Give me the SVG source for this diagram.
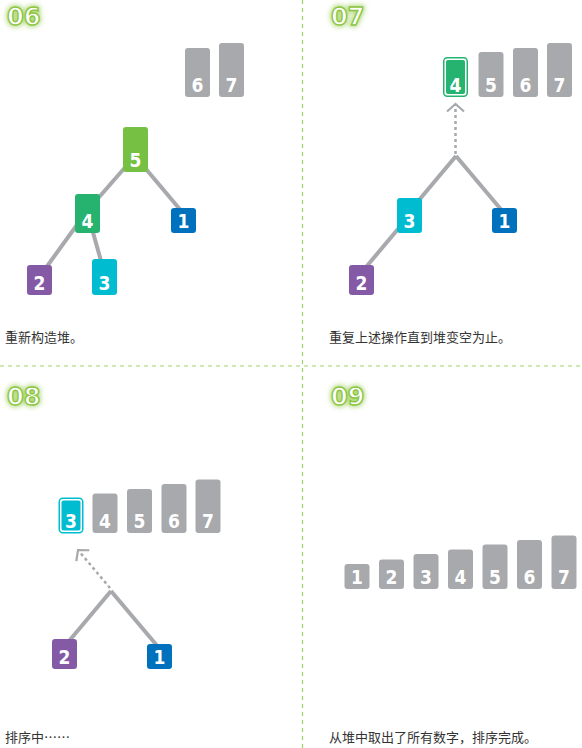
<svg xmlns="http://www.w3.org/2000/svg" width="582" height="748" viewBox="0 0 582 748">
<defs>
<style>
.bar{fill:#a7a9ac}
.c5{fill:#76c043}.c4{fill:#26b36f}.c1{fill:#0071bc}.c2{fill:#8459a5}.c3{fill:#00bcd0}
.num{font-family:"DejaVu Sans Condensed","DejaVu Sans","Liberation Sans",sans-serif;font-stretch:condensed;font-weight:bold;font-size:19px;fill:#fff;text-anchor:middle}
.edge{stroke:#a7a9ac;stroke-width:4;fill:none}
.arrow{stroke:#a7a9ac;stroke-width:2.5;stroke-dasharray:3 3;fill:none}
.div{stroke:#9ed36a;stroke-width:1.2;stroke-dasharray:4 4;fill:none}
.cap{font-family:"Noto Sans CJK SC","Noto Sans CJK JP",sans-serif;font-size:13px;fill:#333}
.step{font-family:"DejaVu Sans","Open Sans",sans-serif;font-weight:bold;font-size:24px;fill:#fff;stroke:#8cc63f;stroke-width:1.4}
.glow{font-family:"DejaVu Sans","Open Sans",sans-serif;font-weight:bold;font-size:24px;fill:#8cc63f;stroke:#8cc63f;stroke-width:4;filter:url(#blur);opacity:0.65}
</style>
<filter id="blur" x="-50%" y="-50%" width="200%" height="200%"><feGaussianBlur stdDeviation="2.5"/></filter>
<marker id="chev" markerUnits="userSpaceOnUse" markerWidth="30" markerHeight="30" refX="0" refY="0" viewBox="-15 -15 30 30" orient="auto" overflow="visible">
<path d="M-7.5,-8.5 L0,0 L-7.5,8.5" fill="none" stroke="#a7a9ac" stroke-width="2.2"/>
</marker>
</defs>
<rect width="582" height="748" fill="#fff"/>

<g id="dividers">
<line class="div" x1="0" y1="366" x2="582" y2="366"/>
<line class="div" x1="302.5" y1="0" x2="302.5" y2="748"/>
</g>

<g id="step-labels">
<text class="glow" x="7" y="25">06</text><text class="step" x="7" y="25">06</text>
<text class="glow" x="331" y="25">07</text><text class="step" x="331" y="25">07</text>
<text class="glow" x="7" y="405">08</text><text class="step" x="7" y="405">08</text>
<text class="glow" x="331" y="405">09</text><text class="step" x="331" y="405">09</text>
</g>

<g id="connectors">
<line class="edge" x1="135" y1="156" x2="87" y2="211"/>
<line class="edge" x1="135" y1="156" x2="183" y2="213"/>
<line class="edge" x1="87" y1="211" x2="40" y2="276"/>
<line class="edge" x1="87" y1="211" x2="103" y2="268"/>
<line class="edge" x1="456" y1="156" x2="504" y2="213"/>
<line class="edge" x1="456" y1="156" x2="409" y2="212"/>
<line class="edge" x1="409" y1="216" x2="361" y2="273"/>
<line class="arrow" x1="455.5" y1="154" x2="455.5" y2="104" marker-end="url(#chev)"/>
<line class="edge" x1="111" y1="591" x2="64" y2="647"/>
<line class="edge" x1="111" y1="591" x2="159" y2="648"/>
<line class="arrow" x1="110" y1="588" x2="78" y2="550" marker-end="url(#chev)"/>
</g>

<!-- panel 06 -->
<g id="p06-bar6"><rect class="bar" x="185" y="48" width="25" height="49" rx="3"/><text class="num" x="197.5" y="91.5">6</text></g>
<g id="p06-bar7"><rect class="bar" x="219" y="43" width="25" height="54" rx="3"/><text class="num" x="231.5" y="91.5">7</text></g>
<g id="p06-n5"><rect class="c5" x="123" y="127" width="25" height="45" rx="3"/><text class="num" x="135.5" y="166.5">5</text></g>
<g id="p06-n4"><rect class="c4" x="75" y="194" width="25" height="39" rx="3"/><text class="num" x="87.5" y="227.5">4</text></g>
<g id="p06-n1"><rect class="c1" x="171" y="208" width="25" height="25" rx="3"/><text class="num" x="183.5" y="227.5">1</text></g>
<g id="p06-n2"><rect class="c2" x="27" y="265" width="25" height="30" rx="3"/><text class="num" x="39.5" y="289.5">2</text></g>
<g id="p06-n3"><rect class="c3" x="92" y="259" width="25" height="36" rx="3"/><text class="num" x="104.5" y="289.5">3</text></g>
<text class="cap" x="5" y="342">重新构造堆。</text>

<!-- panel 07 -->
<g id="p07-n4"><rect x="443.75" y="57.75" width="23.5" height="38.5" rx="3.5" fill="#fff" stroke="#26b36f" stroke-width="1.5"/><rect class="c4" x="446" y="60" width="19" height="34" rx="2"/><text class="num" x="455.5" y="91.5">4</text></g>
<g id="p07-bar5"><rect class="bar" x="478.5" y="52" width="25" height="45" rx="3"/><text class="num" x="491" y="91.5">5</text></g>
<g id="p07-bar6"><rect class="bar" x="513" y="48" width="25" height="49" rx="3"/><text class="num" x="525.5" y="91.5">6</text></g>
<g id="p07-bar7"><rect class="bar" x="547" y="43" width="25" height="54" rx="3"/><text class="num" x="559.5" y="91.5">7</text></g>
<g id="p07-n3"><rect class="c3" x="397" y="198" width="25" height="35" rx="3"/><text class="num" x="409.5" y="227.5">3</text></g>
<g id="p07-n1"><rect class="c1" x="492" y="208" width="25" height="25" rx="3"/><text class="num" x="504.5" y="227.5">1</text></g>
<g id="p07-n2"><rect class="c2" x="349" y="265" width="25" height="30" rx="3"/><text class="num" x="361.5" y="289.5">2</text></g>
<text class="cap" x="329" y="342">重复上述操作直到堆变空为止。</text>

<!-- panel 08 -->
<g id="p08-n3"><rect x="59.25" y="498.25" width="23.5" height="34.5" rx="3.5" fill="#fff" stroke="#00bcd0" stroke-width="1.5"/><rect class="c3" x="61.5" y="500.5" width="19" height="30" rx="2"/><text class="num" x="71" y="527.5">3</text></g>
<g id="p08-bar4"><rect class="bar" x="92.5" y="493.5" width="25" height="39.5" rx="3"/><text class="num" x="105" y="527.5">4</text></g>
<g id="p08-bar5"><rect class="bar" x="127" y="489" width="25" height="44" rx="3"/><text class="num" x="139.5" y="527.5">5</text></g>
<g id="p08-bar6"><rect class="bar" x="161.5" y="484" width="25" height="49" rx="3"/><text class="num" x="174" y="527.5">6</text></g>
<g id="p08-bar7"><rect class="bar" x="195.5" y="479.5" width="25" height="53.5" rx="3"/><text class="num" x="208" y="527.5">7</text></g>
<g id="p08-n2"><rect class="c2" x="52" y="639" width="25" height="30" rx="3"/><text class="num" x="64.5" y="663.5">2</text></g>
<g id="p08-n1"><rect class="c1" x="147" y="644" width="25" height="25" rx="3"/><text class="num" x="159.5" y="663.5">1</text></g>
<text class="cap" x="5" y="742">排序中……</text>

<!-- panel 09 -->
<g id="p09-bar1"><rect class="bar" x="344.5" y="564" width="25" height="25" rx="3"/><text class="num" x="357" y="583.5">1</text></g>
<g id="p09-bar2"><rect class="bar" x="379" y="559.5" width="25" height="29.5" rx="3"/><text class="num" x="391.5" y="583.5">2</text></g>
<g id="p09-bar3"><rect class="bar" x="413.5" y="554" width="25" height="35" rx="3"/><text class="num" x="426" y="583.5">3</text></g>
<g id="p09-bar4"><rect class="bar" x="448" y="549.5" width="25" height="39.5" rx="3"/><text class="num" x="460.5" y="583.5">4</text></g>
<g id="p09-bar5"><rect class="bar" x="482.5" y="544.5" width="25" height="44.5" rx="3"/><text class="num" x="495" y="583.5">5</text></g>
<g id="p09-bar6"><rect class="bar" x="517" y="540" width="25" height="49" rx="3"/><text class="num" x="529.5" y="583.5">6</text></g>
<g id="p09-bar7"><rect class="bar" x="551.5" y="535.5" width="25" height="53.5" rx="3"/><text class="num" x="564" y="583.5">7</text></g>
<text class="cap" x="329" y="742">从堆中取出了所有数字，排序完成。</text>
</svg>
